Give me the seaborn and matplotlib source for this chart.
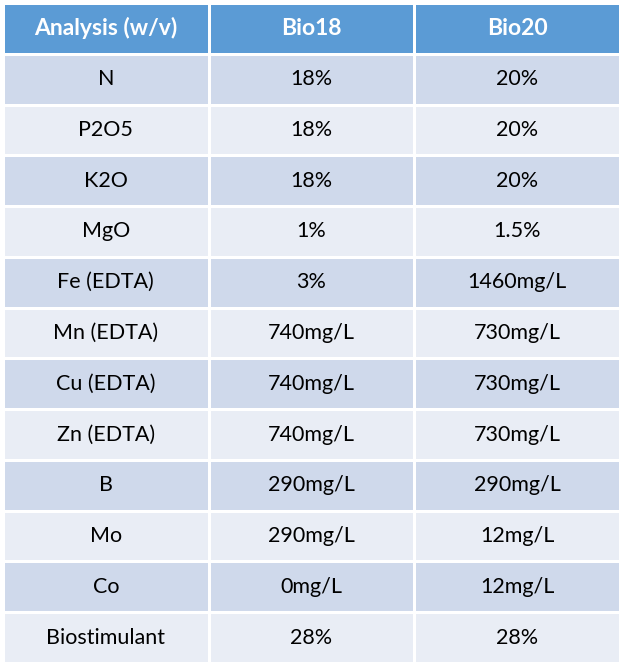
import matplotlib
matplotlib.use("Agg")
import matplotlib.pyplot as plt
from matplotlib.colors import ListedColormap
import seaborn as sns
import numpy as np

headers = ["Analysis (w/v)", "Bio18", "Bio20"]
analysis = ["N", "P2O5", "K2O", "MgO", "Fe (EDTA)", "Mn (EDTA)", "Cu (EDTA)",
            "Zn (EDTA)", "B", "Mo", "Co", "Biostimulant"]
bio18 = ["18%", "18%", "18%", "1%", "3%", "740mg/L", "740mg/L", "740mg/L",
         "290mg/L", "290mg/L", "0mg/L", "28%"]
bio20 = ["20%", "20%", "20%", "1.5%", "1460mg/L", "730mg/L", "730mg/L", "730mg/L",
         "290mg/L", "12mg/L", "12mg/L", "28%"]

nrows = len(analysis) + 1
shade = np.zeros((nrows, 3))
for i in range(1, nrows):
    shade[i, :] = 1 if i % 2 == 1 else 2
cmap = ListedColormap(["#5B9BD5", "#CFD9EB", "#E9EDF5"])

fig = plt.figure(figsize=(6.24, 6.67), dpi=100)
ax = fig.add_axes([3/624, 4/667, 617/624, 660/667])
sns.heatmap(shade, cmap=cmap, vmin=-0.5, vmax=2.5, cbar=False, linewidths=2,
            linecolor="white", ax=ax, xticklabels=False, yticklabels=False)
for j, h in enumerate(headers):
    ax.text(j + 0.5, 0.5, h, ha="center", va="center", color="white",
            fontsize=16.5, fontweight="bold", family="Lato")
for i in range(len(analysis)):
    for j, v in enumerate([analysis[i], bio18[i], bio20[i]]):
        ax.text(j + 0.5, i + 1.5, v, ha="center", va="center", color="black",
                fontsize=15.5, family="Lato")
ax.set_xlabel(""); ax.set_ylabel("")
fig.savefig("out.png", dpi=100)
